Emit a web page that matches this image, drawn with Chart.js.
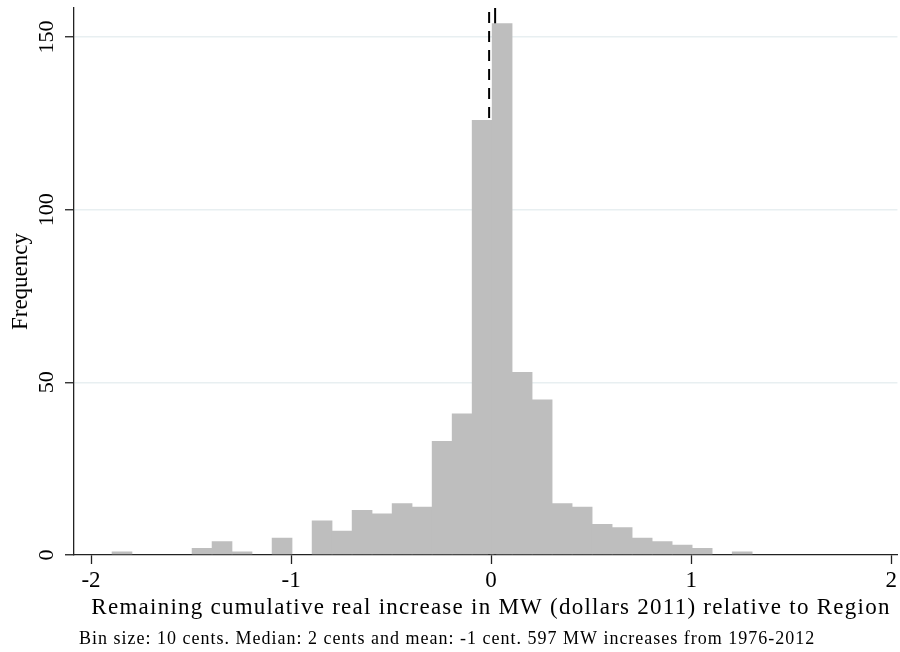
<!DOCTYPE html>
<html>
<head>
<meta charset="utf-8">
<script src="https://cdn.jsdelivr.net/npm/chart.js@4.4.0/dist/chart.umd.min.js"></script>
<style>
  html, body { margin: 0; padding: 0; background: #fff; }
  #wrap { width: 900px; height: 652px; position: relative; }
</style>
</head>
<body>
<div id="wrap"><canvas id="histChart"></canvas></div>
<script>
// bins of 10 cents, centre of each bin
const binCenters = [-1.845, -1.745, -1.645, -1.545, -1.445, -1.345, -1.245, -1.145,
  -1.045, -0.945, -0.845, -0.745, -0.645, -0.545, -0.445, -0.345, -0.245, -0.145,
  -0.045, 0.055, 0.155, 0.255, 0.355, 0.455, 0.555, 0.655, 0.755, 0.855, 0.955,
  1.055, 1.155, 1.255];
const frequencies = [1, 0, 0, 0, 2, 4, 1, 0,
  5, 0, 10, 7, 13, 12, 15, 14, 33, 41,
  126, 154, 53, 45, 15, 14, 9, 8, 5, 4, 3,
  2, 0, 1];
const meanValue = -0.01;
const medianValue = 0.02;
const xTicks = [-2, -1, 0, 1, 2];
const yTicks = [0, 50, 100, 150];

const xTitle = 'Remaining cumulative real increase in MW (dollars 2011) relative to Region';
const yTitle = 'Frequency';
const note = 'Bin size: 10 cents. Median: 2 cents and mean: -1 cent. 597 MW increases from 1976-2012';

const serif = "'Liberation Serif', 'Times New Roman', serif";
const yMax = 158.4;

// rotated y tick labels, x axis title and the note (TeX-like wide spacing)
const extrasPlugin = {
  id: 'extras',
  afterDraw(chart) {
    const ctx = chart.ctx;
    const ys = chart.scales.y;
    ctx.save();
    ctx.fillStyle = '#000';
    ctx.font = '22px ' + serif;
    ctx.textAlign = 'center';
    ctx.textBaseline = 'alphabetic';
    ys.ticks.forEach(t => {
      const py = ys.getPixelForValue(t.value);
      ctx.save();
      ctx.translate(53, py);
      ctx.rotate(-Math.PI / 2);
      ctx.fillText(String(t.value), 0, 0);
      ctx.restore();
    });
    ctx.font = '23px ' + serif;
    ctx.letterSpacing = '1.25px';
    ctx.textAlign = 'center';
    ctx.fillText(xTitle, 491, 614);
    ctx.font = '18px ' + serif;
    ctx.letterSpacing = '1px';
    ctx.textAlign = 'left';
    ctx.fillText(note, 79, 644);
    ctx.restore();
  }
};

const ctx = document.getElementById('histChart').getContext('2d');
new Chart(ctx, {
  type: 'bar',
  data: {
    datasets: [
      {
        type: 'bar',
        data: binCenters.map((x, i) => ({ x: x, y: frequencies[i] })),
        backgroundColor: '#bebebe',
        borderWidth: 0,
        barPercentage: 1.03,
        categoryPercentage: 1,
        order: 0
      },
      {
        type: 'line',
        data: [{ x: meanValue, y: 0 }, { x: meanValue, y: yMax }],
        borderColor: '#000',
        borderWidth: 2,
        borderDash: [11, 8],
        pointRadius: 0,
        order: 1
      },
      {
        type: 'line',
        data: [{ x: medianValue, y: 0 }, { x: medianValue, y: yMax }],
        borderColor: '#000',
        borderWidth: 2,
        pointRadius: 0,
        order: 1
      }
    ]
  },
  options: {
    responsive: true,
    maintainAspectRatio: false,
    animation: false,
    layout: { padding: { top: 8, right: 1, left: 0, bottom: 0 } },
    plugins: {
      legend: { display: false },
      tooltip: { enabled: false }
    },
    scales: {
      x: {
        type: 'linear',
        min: -2.085,
        max: 2.031,
        offset: false,
        afterBuildTicks: s => { s.ticks = xTicks.map(v => ({ value: v })); },
        afterFit: s => { s.height = 97; },
        ticks: {
          color: '#000',
          font: { family: serif, size: 23 },
          padding: 3,
          maxRotation: 0,
          callback: v => String(v)
        },
        grid: { offset: false, drawOnChartArea: false, tickLength: 9, tickColor: '#222', tickWidth: 1.3 },
        border: { color: '#222', width: 1.3 },
        title: { display: false }
      },
      y: {
        min: 0,
        max: yMax,
        afterBuildTicks: s => { s.ticks = yTicks.map(v => ({ value: v })); },
        afterFit: s => { s.width = 74; },
        ticks: { display: false },
        grid: {
          color: c => (c.tick && c.tick.value === 0 ? 'rgba(0,0,0,0)' : '#e8eff1'),
          lineWidth: 1.5,
          tickLength: 9,
          tickColor: '#222',
          tickWidth: 1.3
        },
        border: { color: '#222', width: 1.3 },
        title: {
          display: true,
          text: yTitle,
          color: '#000',
          font: { family: serif, size: 23 },
          padding: { top: 7, bottom: 0 }
        }
      }
    }
  },
  plugins: [extrasPlugin]
});
</script>
</body>
</html>
